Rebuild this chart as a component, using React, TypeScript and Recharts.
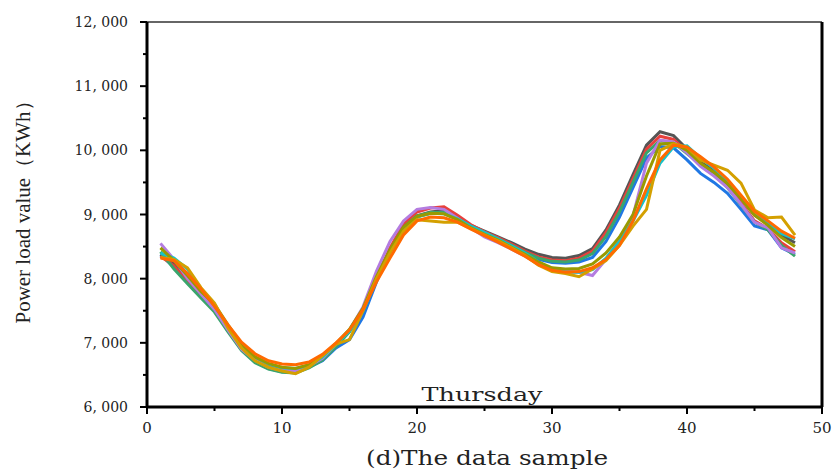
import { LineChart, Line, XAxis, YAxis, ReferenceLine } from 'recharts'

const samples = Array.from({ length: 48 }, (_, i) => i + 1)

const blue = [8370, 8180, 7940, 7720, 7500, 7190, 6900, 6710, 6600, 6550, 6550, 6620, 6720, 6920, 7050, 7400, 7950, 8420, 8790, 8970, 9020, 9030, 8920, 8790, 8690, 8600, 8500, 8390, 8300, 8250, 8240, 8260, 8330, 8580, 8960, 9420, 9880, 10060, 10040, 9850, 9640, 9500, 9330, 9080, 8820, 8760, 8480, 8380]
const gray = [8380, 8230, 7980, 7760, 7540, 7230, 6950, 6760, 6650, 6590, 6580, 6640, 6780, 6980, 7200, 7520, 8020, 8460, 8800, 8980, 9040, 9060, 8960, 8830, 8740, 8650, 8560, 8460, 8380, 8330, 8320, 8360, 8470, 8760, 9150, 9620, 10080, 10290, 10230, 10020, 9820, 9680, 9500, 9250, 8990, 8850, 8680, 8560]
const red = [8350, 8200, 7950, 7740, 7520, 7210, 6920, 6720, 6610, 6560, 6560, 6630, 6770, 6970, 7180, 7510, 8000, 8480, 8850, 9040, 9100, 9120, 8990, 8840, 8730, 8640, 8540, 8430, 8340, 8290, 8280, 8320, 8430, 8720, 9100, 9560, 10020, 10220, 10170, 9980, 9790, 9650, 9450, 9180, 8900, 8780, 8560, 8420]
const green = [8420, 8150, 7920, 7700, 7480, 7170, 6880, 6690, 6590, 6540, 6530, 6610, 6730, 6940, 7170, 7490, 7980, 8440, 8800, 8980, 9030, 9030, 8940, 8810, 8710, 8620, 8520, 8410, 8320, 8270, 8260, 8290, 8390, 8660, 9040, 9500, 9960, 10150, 10120, 9950, 9780, 9620, 9420, 9150, 8880, 8760, 8520, 8350]
const purple = [8550, 8300, 8000, 7760, 7520, 7200, 6900, 6730, 6620, 6570, 6570, 6640, 6760, 6980, 7200, 7560, 8120, 8580, 8900, 9080, 9110, 9080, 8940, 8790, 8650, 8560, 8460, 8350, 8230, 8140, 8120, 8100, 8050, 8300, 8600, 8980, 9800, 10160, 10130, 9960, 9750, 9600, 9420, 9160, 8880, 8790, 8480, 8400]
const cyan = [8400, 8320, 8150, 7820, 7580, 7260, 6970, 6780, 6670, 6610, 6600, 6650, 6780, 6980, 7180, 7500, 8000, 8420, 8760, 8960, 9020, 9010, 8930, 8820, 8720, 8620, 8510, 8400, 8260, 8150, 8100, 8100, 8140, 8320, 8580, 8900, 9300, 9800, 10050, 10070, 9880, 9720, 9520, 9270, 9000, 8860, 8700, 8620]
const olive = [8480, 8280, 8050, 7800, 7600, 7280, 6980, 6780, 6680, 6620, 6600, 6660, 6800, 6990, 7210, 7540, 8030, 8450, 8800, 8970, 9020, 9010, 8920, 8790, 8690, 8600, 8490, 8380, 8260, 8170, 8150, 8160, 8230, 8400, 8650, 9000, 9600, 10100, 10110, 10000, 9800, 9660, 9480, 9250, 8990, 8830, 8640, 8500]
const gold = [8330, 8300, 8170, 7860, 7620, 7230, 6920, 6720, 6620, 6560, 6520, 6620, 6800, 6980, 7050, 7500, 8000, 8400, 8740, 8920, 8900, 8880, 8880, 8780, 8680, 8590, 8480, 8360, 8210, 8110, 8080, 8030, 8150, 8280, 8520, 8820, 9080, 10000, 10100, 10050, 9850, 9770, 9690, 9490, 9070, 8950, 8960, 8680]
const orange = [8320, 8280, 8080, 7840, 7570, 7280, 7010, 6830, 6720, 6670, 6660, 6700, 6820, 7000, 7200, 7520, 7950, 8320, 8680, 8900, 8960, 8950, 8880, 8770, 8670, 8570, 8460, 8350, 8220, 8130, 8100, 8110, 8170, 8300, 8520, 8900, 9400, 9850, 10080, 10050, 9900, 9740, 9550, 9300, 9050, 8900, 8740, 8630]

const yTicks = [6000, 6500, 7000, 7500, 8000, 8500, 9000, 9500, 10000, 10500, 11000, 11500, 12000]
const xTicks = [0, 5, 10, 15, 20, 25, 30, 35, 40, 45, 50]

const series = [
  { key: 'blue', values: blue, color: '#1f77e4' },
  { key: 'gray', values: gray, color: '#555555' },
  { key: 'red', values: red, color: '#e8403c' },
  { key: 'green', values: green, color: '#3aa56c' },
  { key: 'purple', values: purple, color: '#b47ce0' },
  { key: 'cyan', values: cyan, color: '#17c2c9' },
  { key: 'olive', values: olive, color: '#999a00' },
  { key: 'gold', values: gold, color: '#d4a000' },
  { key: 'orange', values: orange, color: '#ff6a00' },
]

const data = samples.map((x, i) => {
  const row: Record<string, number> = { x }
  series.forEach((s) => { row[s.key] = s.values[i] })
  return row
})

const font = 'DejaVu Serif, Liberation Serif, serif'

const fmt = (v: number) => `${Math.floor(v / 1000)}, 000`

function YTick(props: any) {
  const { x, y, payload } = props
  const major = payload.value % 1000 === 0
  return (
    <g>
      <line x1={x - (major ? 7 : 4)} x2={x} y1={y} y2={y} stroke="#000" strokeWidth={2} />
      {major && (
        <text x={x - 19} y={y + 5} textAnchor="end" fontFamily={font} fontSize={14} fill="#222">
          {fmt(payload.value)}
        </text>
      )}
    </g>
  )
}

function XTick(props: any) {
  const { x, y, payload } = props
  const major = payload.value % 10 === 0
  return (
    <g>
      <line x1={x} x2={x} y1={y} y2={y + (major ? 7 : 4)} stroke="#000" strokeWidth={2} />
      {major && (
        <text x={x} y={y + 26} textAnchor="middle" fontFamily={font} fontSize={15} fill="#222">
          {payload.value}
        </text>
      )}
    </g>
  )
}

export default function App() {
  return (
    <div style={{ position: 'absolute', left: 0, top: 0, width: 835, height: 473, background: '#fff' }}>
      <LineChart width={835} height={473} data={data} margin={{ top: 22, right: 13, left: 0, bottom: 0 }}>
        <XAxis
          dataKey="x"
          type="number"
          domain={[0, 50]}
          ticks={xTicks}
          interval={0}
          height={66}
          tickSize={0}
          tickMargin={0}
          tickLine={false}
          tick={<XTick />}
          axisLine={{ stroke: '#000', strokeWidth: 3 }}
          label={{
            content: () => (
              <text x={487} y={465} textAnchor="middle" fontFamily={font} fontSize={20} fill="#222" textLength={242} lengthAdjust="spacingAndGlyphs">
                (d)The data sample
              </text>
            ),
          }}
        />
        <YAxis
          type="number"
          domain={[6000, 12000]}
          ticks={yTicks}
          interval={0}
          width={147}
          tickSize={0}
          tickMargin={0}
          tickLine={false}
          tick={<YTick />}
          axisLine={{ stroke: '#000', strokeWidth: 3 }}
          label={{
            content: () => (
              <text
                transform="translate(30,207) rotate(-90)"
                textAnchor="middle"
                fontFamily="Liberation Serif, serif"
                fontSize={20}
                fill="#222"
                textLength={233}
                lengthAdjust="spacingAndGlyphs"
              >
                Power load value（KWh）
              </text>
            ),
          }}
        />
        <ReferenceLine y={12000} stroke="#333" strokeWidth={1.5} />
        <ReferenceLine x={50} stroke="#000" strokeWidth={3} />
        <ReferenceLine
          y={6000}
          stroke="none"
          label={{
            content: () => (
              <text x={482} y={401} textAnchor="middle" fontFamily={font} fontSize={19} fill="#222" textLength={121} lengthAdjust="spacingAndGlyphs">
                Thursday
              </text>
            ),
          }}
        />
        {series.map((s) => (
          <Line
            key={s.key}
            type="linear"
            dataKey={s.key}
            stroke={s.color}
            strokeWidth={3}
            dot={false}
            isAnimationActive={false}
          />
        ))}
      </LineChart>
    </div>
  )
}
